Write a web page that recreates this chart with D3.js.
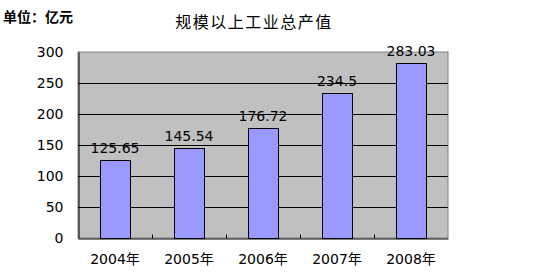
<!DOCTYPE html>
<html><head><meta charset="utf-8">
<script src="https://cdn.jsdelivr.net/npm/d3@7/dist/d3.min.js"></script>
<style>body{margin:0;background:#fff}svg{display:block}</style>
</head><body>
<script>
const categories = ["2004年","2005年","2006年","2007年","2008年"];
const values = [125.65,145.54,176.72,234.5,283.03];
const valueLabels = ["125.65","145.54","176.72","234.5","283.03"];
const yTicks = [0,50,100,150,200,250,300];
const title = "规模以上工业总产值";
const unit = "单位：亿元";

const W=534,H=280;
const m={l:78,r:86,t:52,b:42};
const svg=d3.select("body").append("svg").attr("width",W).attr("height",H);
const font="'DejaVu Sans','Noto Sans CJK SC',sans-serif";
const cjk="'Noto Sans CJK SC',sans-serif";
const x=d3.scaleBand().domain(categories).range([m.l,W-m.r]).paddingInner(0.59).paddingOuter(0.295);
const xb=d3.scaleBand().domain(categories).range([m.l,W-m.r]);
const y=d3.scaleLinear().domain([0,300]).range([H-m.b,m.t]);

svg.append("rect").attr("x",m.l).attr("y",m.t).attr("width",W-m.r-m.l).attr("height",H-m.b-m.t)
  .attr("fill","#c0c0c0").attr("stroke","#808080");

const g=svg.append("g");
g.selectAll("line.grid").data(yTicks.filter(d=>d>0&&d<300)).join("line")
  .attr("x1",m.l).attr("x2",W-m.r).attr("y1",d=>Math.round(y(d))+0.5).attr("y2",d=>Math.round(y(d))+0.5)
  .attr("stroke","#000");

g.selectAll("rect.bar").data(values).join("rect")
  .attr("x",(d,i)=>Math.round(x(categories[i]))+0.5).attr("width",Math.round(x.bandwidth()))
  .attr("y",d=>Math.round(y(d))+0.5).attr("height",d=>Math.round(y(0))-Math.round(y(d)))
  .attr("fill","#9999ff").attr("stroke","#000");

const yAxis=d3.axisLeft(y).tickValues(yTicks).tickSize(0).tickPadding(15);
const ya=svg.append("g").attr("transform",`translate(${m.l+0.5},0)`).call(yAxis);
ya.select(".domain").attr("stroke","#000");
ya.selectAll("text").attr("font-family",font).attr("font-size",14).attr("fill","#000");

const xAxis=d3.axisBottom(xb).tickSize(0).tickPadding(16);
const xa=svg.append("g").attr("transform",`translate(0,${H-m.b+0.5})`).call(xAxis);
xa.select(".domain").attr("stroke","#000");
xa.selectAll("text").attr("font-family",font).attr("font-size",14).attr("fill","#000");
xa.selectAll("line.sep").data(categories.slice(1)).join("line")
  .attr("x1",d=>Math.round(xb(d))+0.5).attr("x2",d=>Math.round(xb(d))+0.5)
  .attr("y1",0).attr("y2",-4).attr("stroke","#000");

g.selectAll("text.val").data(values).join("text")
  .attr("x",(d,i)=>x(categories[i])+x.bandwidth()/2).attr("y",d=>y(d)-7)
  .attr("text-anchor","middle").attr("font-family",font).attr("font-size",14).attr("fill","#000")
  .text((d,i)=>valueLabels[i]);

svg.append("text").attr("x",254).attr("y",28).attr("text-anchor","middle")
  .attr("font-family",cjk).attr("font-size",16).attr("letter-spacing",1.5).attr("fill","#000").text(title);
svg.append("text").attr("x",3).attr("y",22).attr("font-family",cjk).attr("font-size",14)
  .attr("font-weight","bold").attr("fill","#000").text(unit);
</script>
</body></html>
